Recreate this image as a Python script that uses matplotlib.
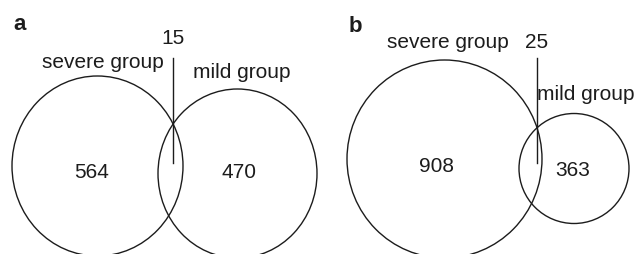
import matplotlib.pyplot as plt
from matplotlib.patches import Ellipse

# Dados dos diagramas de Venn
paineis = ['a', 'b']
grupos = ['severe group', 'mild group']
so_severo = [564, 908]
so_leve = [470, 363]
intersecao = [15, 25]

# Layout (em pixels da figura): centro x, centro y, largura, altura
elip_sev = [(97.5, 166, 171, 180), (444.5, 159, 195, 198)]
elip_lev = [(237.5, 173.5, 159, 169), (574, 168.5, 110, 110)]
pos_letra = [(13, 24), (349, 27)]
pos_sev_label = [(103, 63), (448, 43)]
pos_lev_label = [(242, 72), (586, 95)]
pos_inter = [(173, 38), (537, 43)]
linha_inter = [(173, 58, 163), (537, 58, 163)]
pos_num_sev = [(92, 172), (437, 167)]
pos_num_lev = [(239, 172), (573, 171)]

plt.rcParams['font.family'] = ['Liberation Sans', 'DejaVu Sans']

fig = plt.figure(figsize=(6.38, 2.54), dpi=100)
ax = fig.add_axes([0, 0, 1, 1])
ax.set_xlim(0, 638)
ax.set_ylim(254, 0)
ax.set_aspect('equal')
ax.axis('off')

cor = '#1c1c1c'
fs = 15

for i in range(len(paineis)):
    for (cx, cy, w, h) in (elip_sev[i], elip_lev[i]):
        ax.add_patch(Ellipse((cx, cy), w, h, fill=False, edgecolor=cor, lw=1.0))

    ax.text(*pos_letra[i], paineis[i], fontsize=16, fontweight='bold',
            color=cor, ha='left', va='center')
    ax.text(*pos_sev_label[i], grupos[0], fontsize=fs, color=cor,
            ha='center', va='center')
    ax.text(*pos_lev_label[i], grupos[1], fontsize=fs, color=cor,
            ha='center', va='center')

    ax.text(*pos_inter[i], str(intersecao[i]), fontsize=fs, color=cor,
            ha='center', va='center')
    lx, y0, y1 = linha_inter[i]
    ax.plot([lx, lx], [y0, y1], color=cor, lw=1.0)

    ax.text(*pos_num_sev[i], str(so_severo[i]), fontsize=fs, color=cor,
            ha='center', va='center')
    ax.text(*pos_num_lev[i], str(so_leve[i]), fontsize=fs, color=cor,
            ha='center', va='center')

fig.savefig('out.png', dpi=100)
